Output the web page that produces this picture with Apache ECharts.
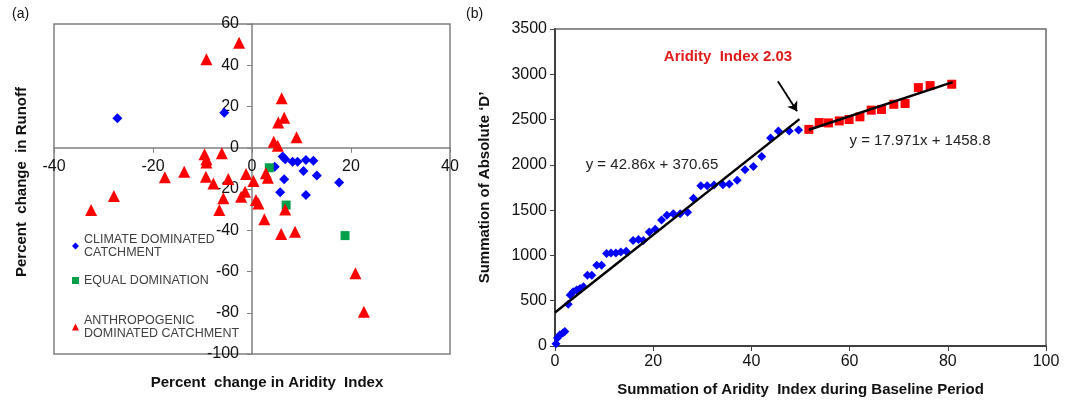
<!DOCTYPE html>
<html>
<head>
    <meta http-equiv="Content-Type" content="text/html; charset=UTF-8">
    <title>Aridity index scatter</title>
    <script type="text/javascript" src="https://cdn.jsdelivr.net/npm/echarts@6/dist/echarts.min.js"></script>
    <style>
        html, body { margin: 0; padding: 0; background: #fff; }
        #main { width: 1072px; height: 402px; }
    </style>
</head>
<body>
<div id="main"></div>
<script type="text/javascript">
    // (a) percent change in aridity index vs percent change in runoff, [x, y]
    var climatePts = [[-27.2, 14.3], [-5.6, 17.0], [6.2, -4.3], [6.7, -5.6], [8.2, -6.8], [9.2, -6.8], [10.9, -5.9], [12.4, -6.3],
        [4.6, -9.2], [10.4, -11.3], [13.1, -13.5], [6.5, -15.3], [17.6, -16.8], [5.7, -21.6], [10.9, -22.9]];
    var equalPts = [[3.5, -9.7], [6.9, -27.8], [18.8, -42.6]];
    var anthroPts = [[-2.6, 50.9], [-9.2, 42.9], [6.0, 24.0], [6.5, 14.6], [5.3, 12.2], [9.0, 5.1], [4.4, 2.9], [5.2, 1.0],
        [-9.6, -3.2], [-6.1, -2.7], [-9.2, -5.6], [-9.2, -7.2], [-13.7, -11.6], [-17.6, -14.3], [-9.3, -14.0], [-7.8, -17.3],
        [-4.8, -15.2], [-1.2, -12.7], [0.3, -16.1], [2.8, -12.4], [3.2, -14.5], [-1.4, -21.3], [-2.2, -23.7], [-5.8, -24.5],
        [-27.9, -23.4], [-32.5, -30.2], [-6.6, -30.2], [0.8, -25.3], [1.3, -27.0], [6.7, -29.9], [2.5, -34.7], [5.9, -41.8],
        [8.7, -40.7], [20.9, -60.9], [22.6, -79.5]];

    // (b) summation of aridity index vs summation of absolute D
    var baseBlue = [[0.2, 25], [0.5, 88], [1.0, 124], [1.6, 143], [2.0, 161], [2.7, 461], [3.1, 563], [3.7, 600], [4.4, 618],
        [5.1, 636], [5.8, 655], [6.6, 782], [7.5, 782], [8.5, 892], [9.5, 892], [10.5, 1020], [11.4, 1028], [12.4, 1028],
        [13.4, 1039], [14.5, 1046], [15.9, 1166], [17.0, 1177], [18.0, 1166], [19.2, 1258], [20.4, 1290], [21.7, 1390],
        [22.8, 1444], [24.1, 1459], [25.5, 1459], [27.0, 1478], [28.2, 1632], [29.7, 1768], [31.0, 1770], [32.4, 1778],
        [34.2, 1781], [35.5, 1788], [37.1, 1830], [38.7, 1946], [40.4, 1982], [42.1, 2092], [43.9, 2297], [45.5, 2374],
        [47.7, 2374], [49.6, 2385]];
    var baseRed = [[51.7, 2392], [53.8, 2467], [55.7, 2463], [57.9, 2485], [59.9, 2501], [62.1, 2530], [64.4, 2604],
        [66.5, 2612], [69.0, 2669], [71.3, 2677], [74.0, 2853], [76.4, 2875], [80.8, 2890]];
    // fitted line end points
    var fitBlue = [[0, 371], [49.8, 2505]];
    var fitRed = [[51.7, 2388], [81, 2914]];
    // arrow to the break point
    var arrowPts = [[45.4, 2922], [49.3, 2593]];

    // tick settings
    var leftX = {min: -40, max: 40, step: 20};
    var leftY = {min: -100, max: 60, step: 20};
    var rightX = {min: 0, max: 100, step: 20};
    var rightY = {min: 0, max: 3500, step: 500};

    var names = {
        climate: 'CLIMATE DOMINATED CATCHMENT',
        equal: 'EQUAL DOMINATION',
        anthro: 'ANTHROPOGENIC DOMINATED CATCHMENT'
    };
    var legendText = {};
    legendText[names.climate] = 'CLIMATE DOMINATED\nCATCHMENT';
    legendText[names.equal] = 'EQUAL DOMINATION';
    legendText[names.anthro] = 'ANTHROPOGENIC\nDOMINATED CATCHMENT';

    var FONT = 'Liberation Sans, Arial, sans-serif';

    // left panel box; axes cross at zero inside it
    var boxA = {left: 54, top: 24, width: 396, height: 330};
    var xAxisShift = -boxA.height * (0 - leftY.min) / (leftY.max - leftY.min);
    var yAxisShift = -boxA.width * (0 - leftX.min) / (leftX.max - leftX.min);

    function plainNum(v) { return String(v); }

    function legendAt(name, top) {
        return {
            data: [name], left: 72, top: top, orient: 'vertical', padding: 0,
            itemWidth: 7, itemHeight: 7, selectedMode: false,
            formatter: function (n) { return legendText[n]; },
            textStyle: {fontFamily: FONT, fontSize: 12.5, color: '#404040', lineHeight: 13}
        };
    }

    var chart = echarts.init(document.getElementById('main'));
    var option = {
        animation: false,
        textStyle: {fontFamily: FONT},
        grid: [
            {left: boxA.left, top: boxA.top, width: boxA.width, height: boxA.height, show: true, borderColor: '#808080', borderWidth: 1.5, backgroundColor: 'transparent'},
            {left: 555, top: 29, width: 491, height: 319, show: true, borderColor: '#6a6a6a', borderWidth: 1.5, backgroundColor: 'transparent'}
        ],
        xAxis: [
            {
                type: 'value', gridIndex: 0, min: leftX.min, max: leftX.max, interval: leftX.step,
                position: 'bottom', offset: xAxisShift,
                axisLine: {onZero: false, lineStyle: {color: '#808080', width: 1.5}},
                axisTick: {length: 5, lineStyle: {color: '#808080'}},
                axisLabel: {fontSize: 16, color: '#111', margin: 11, formatter: plainNum},
                splitLine: {show: false}
            },
            {
                type: 'value', gridIndex: 1, min: rightX.min, max: rightX.max, interval: rightX.step,
                axisLine: {lineStyle: {color: '#404040', width: 2}},
                axisTick: {length: 5, lineStyle: {color: '#404040'}},
                axisLabel: {fontSize: 16, color: '#111', margin: 8, formatter: plainNum},
                splitLine: {show: false},
                name: 'Summation of Aridity  Index during Baseline Period', nameLocation: 'middle', nameGap: 36,
                nameTextStyle: {fontSize: 15, fontWeight: 'bold', color: '#111'}
            }
        ],
        yAxis: [
            {
                type: 'value', gridIndex: 0, min: leftY.min, max: leftY.max, interval: leftY.step,
                position: 'left', offset: yAxisShift,
                axisLine: {onZero: false, lineStyle: {color: '#808080', width: 1.5}},
                axisTick: {length: 5, lineStyle: {color: '#808080'}},
                axisLabel: {fontSize: 16, color: '#111', margin: 13, formatter: plainNum},
                splitLine: {show: false}
            },
            {
                type: 'value', gridIndex: 1, min: rightY.min, max: rightY.max, interval: rightY.step,
                axisLine: {lineStyle: {color: '#404040', width: 2}},
                axisTick: {length: 5, lineStyle: {color: '#404040'}},
                axisLabel: {fontSize: 16, color: '#111', margin: 8, formatter: plainNum},
                splitLine: {show: false},
                name: 'Summation of Absolute \u2018D\u2019', nameLocation: 'middle', nameGap: 63,
                nameTextStyle: {fontSize: 15, fontWeight: 'bold', color: '#111'}
            }
        ],
        legend: [legendAt(names.climate, 233), legendAt(names.equal, 274), legendAt(names.anthro, 314)],
        series: [
            {
                name: names.climate, type: 'scatter', xAxisIndex: 0, yAxisIndex: 0, data: climatePts,
                symbol: 'diamond', symbolSize: 10, itemStyle: {color: '#0000ff', opacity: 1}
            },
            {
                name: names.equal, type: 'scatter', xAxisIndex: 0, yAxisIndex: 0, data: equalPts,
                symbol: 'rect', symbolSize: 9, itemStyle: {color: '#00a04a', opacity: 1}
            },
            {
                name: names.anthro, type: 'scatter', xAxisIndex: 0, yAxisIndex: 0, data: anthroPts,
                symbol: 'triangle', symbolSize: 12, itemStyle: {color: '#ff0000', opacity: 1}
            },
            {
                name: 'blueFit', type: 'line', xAxisIndex: 1, yAxisIndex: 1, data: fitBlue,
                symbol: 'none', lineStyle: {color: '#000', width: 2.5}, silent: true
            },
            {
                name: 'redFit', type: 'line', xAxisIndex: 1, yAxisIndex: 1, data: fitRed,
                symbol: 'none', lineStyle: {color: '#000', width: 2.5}, silent: true, z: 3,
                markLine: {
                    silent: true, symbol: ['none', 'arrow'], symbolSize: 9, label: {show: false},
                    lineStyle: {color: '#000', width: 1.8, type: 'solid'},
                    data: [[{coord: arrowPts[0]}, {coord: arrowPts[1]}]]
                }
            },
            {
                name: 'blue', type: 'scatter', xAxisIndex: 1, yAxisIndex: 1, data: baseBlue,
                symbol: 'diamond', symbolSize: 9, itemStyle: {color: '#0000ff', opacity: 1}, z: 2
            },
            {
                name: 'red', type: 'scatter', xAxisIndex: 1, yAxisIndex: 1, data: baseRed,
                symbol: 'rect', symbolSize: 9, itemStyle: {color: '#ff0000', opacity: 1}, z: 2
            }
        ],
        graphic: [
            {type: 'text', x: 12, y: 7, style: {text: '(a)', font: '14px ' + FONT, fill: '#111'}},
            {type: 'text', x: 466, y: 7, style: {text: '(b)', font: '14px ' + FONT, fill: '#111'}},
            {type: 'text', x: 22, y: 182, rotation: Math.PI / 2,
                style: {text: 'Percent  change  in Runoff', font: 'bold 15px ' + FONT, fill: '#111', align: 'center', verticalAlign: 'middle'}},
            {type: 'text', x: 267, y: 383,
                style: {text: 'Percent  change in Aridity  Index', font: 'bold 15px ' + FONT, fill: '#111', align: 'center', verticalAlign: 'middle'}},
            {type: 'text', x: 728, y: 57,
                style: {text: 'Aridity  Index 2.03', font: 'bold 15px ' + FONT, fill: '#e01b1b', align: 'center', verticalAlign: 'middle'}},
            {type: 'text', x: 652, y: 165,
                style: {text: 'y = 42.86x + 370.65', font: '15px ' + FONT, fill: '#222', align: 'center', verticalAlign: 'middle'}},
            {type: 'text', x: 920, y: 141,
                style: {text: 'y = 17.971x + 1458.8', font: '15px ' + FONT, fill: '#222', align: 'center', verticalAlign: 'middle'}}
        ]
    };
    chart.setOption(option);
</script>
</body>
</html>
